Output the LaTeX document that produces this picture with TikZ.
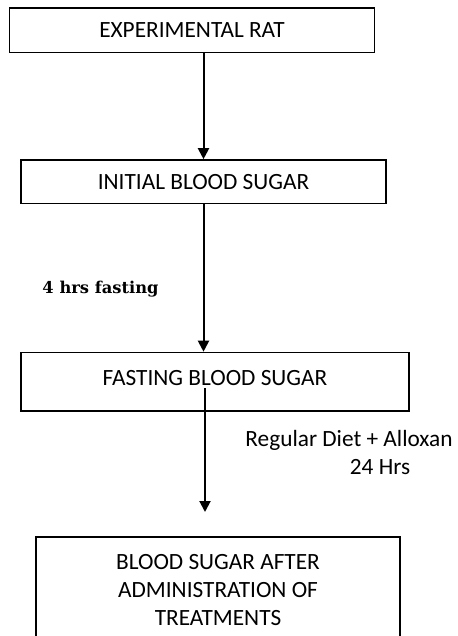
\documentclass[tikz,border=0pt]{standalone}
\usepackage{fontspec}
\setmainfont{Carlito}
\newfontfamily\labelserif{DejaVu Serif}
\usetikzlibrary{arrows.meta}
\tikzset{
  stepbox/.style={draw=black, line width=1.6pt, inner sep=0pt, font=\fontsize{23.3}{28}\selectfont, align=center},
  flow/.style={line width=2pt, -{Triangle[width=11pt,length=11pt]}},
  sidetext/.style={inner sep=0pt, font=\fontsize{23.3}{28}\selectfont},
}
\begin{document}
\begin{tikzpicture}[x=1pt,y=-1pt]
\useasboundingbox (0,0) rectangle (457,636);
\clip (0,0) rectangle (457,636);
\node[stepbox, minimum width=365pt, minimum height=44.5pt] (b1) at (192,30.25) {EXPERIMENTAL RAT};
\node[stepbox, minimum width=365pt, minimum height=43.5pt] (b2) at (203.5,181.75) {INITIAL BLOOD SUGAR};
\node[stepbox, minimum width=388pt, minimum height=58.5pt] (b3) at (215,381.75) {\raisebox{7.5pt}{FASTING BLOOD SUGAR}};
\node[stepbox, minimum width=364pt, minimum height=106pt] (b4) at (218,590) {BLOOD SUGAR AFTER\\ADMINISTRATION OF\\TREATMENTS};
\node[inner sep=0pt, font=\labelserif\bfseries\fontsize{16.3}{18}\selectfont] (l1) at (100.5,289) {4 hrs fasting};
\node[sidetext] (l2) at (349,440) {Regular Diet + Alloxan};
\node[sidetext] (l3) at (380,467) {24 Hrs};
\coordinate (s3) at (205,388);
\coordinate (t3) at (205,512);
\draw[flow] (b1.south -| b2.north) -- (b2.north);
\draw[flow] (b2.south) -- (b2.south |- b3.north);
\draw[flow] (s3) -- (t3);
\end{tikzpicture}
\end{document}
